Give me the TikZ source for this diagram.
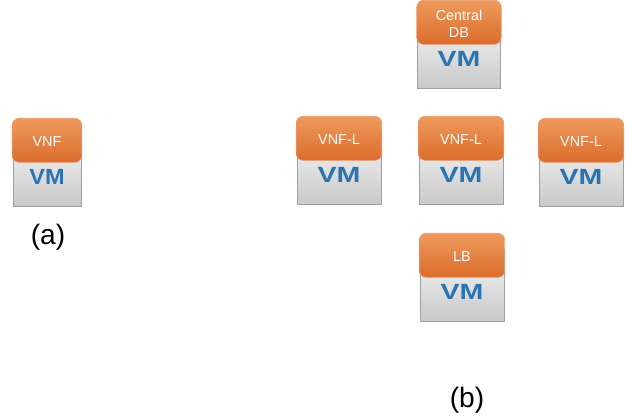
\documentclass[tikz,border=0pt]{standalone}
\usepackage{fontspec}
\setmainfont{Liberation Sans}
\usepackage{graphicx}
\definecolor{vmblue}{HTML}{2A74B4}
\definecolor{vnftop}{HTML}{EE9A5C}
\definecolor{vnfbottom}{HTML}{DB6C2C}
\tikzset{
  vmbox/.style={draw=gray!75,line width=0.4pt,inner sep=0pt,top color=gray!8,bottom color=gray!42,minimum height=1.44cm},
  vnfbox/.style={draw=vnfbottom!70,line width=0.4pt,rounded corners=0.14cm,inner sep=0pt,top color=vnftop,bottom color=vnfbottom,minimum height=0.88cm},
  vnftext/.style={inner sep=0pt,text=white,align=center,font=\fontsize{8.2pt}{9.8pt}\selectfont},
  vmlabel/.style={inner sep=0pt,text=vmblue,font=\fontsize{12.5pt}{13pt}\selectfont\bfseries},
  caption/.style={inner sep=0pt,font=\fontsize{16pt}{18pt}\selectfont}
}
\begin{document}
\begin{tikzpicture}[x=0.02cm,y=-0.02cm]
\useasboundingbox (0,0) rectangle (632,418);
% VM with its function on top
\foreach \nm/\x/\y/\boxw/\vmw/\txt in {vnf/47/118/1.36/1.07/VNF,db/459/0/1.66/1.3/{Central\\DB},left/339/116/1.68/1.3/VNF-L,mid/461/116/1.68/1.3/VNF-L,right/581/118/1.68/1.3/VNF-L,lb/462/233/1.68/1.3/LB} {
    \node[vmbox,minimum width=\boxw cm,anchor=north] (\nm vm) at (\x,\y+16) {};
    \node[vmlabel] (\nm lbl) at (\x,\y+59) {\scalebox{\vmw}[1]{VM}};
    \node[vnfbox,minimum width=\boxw cm+0.03cm,anchor=north] (\nm) at (\x,\y) {};
    \node[vnftext] (\nm txt) at (\x,\y+24) {\txt};
}

% Labels
\node[caption] (capa) at (48,237) {(a)};
\node[caption] (capb) at (467,400) {(b)};
\end{tikzpicture}
\end{document}
